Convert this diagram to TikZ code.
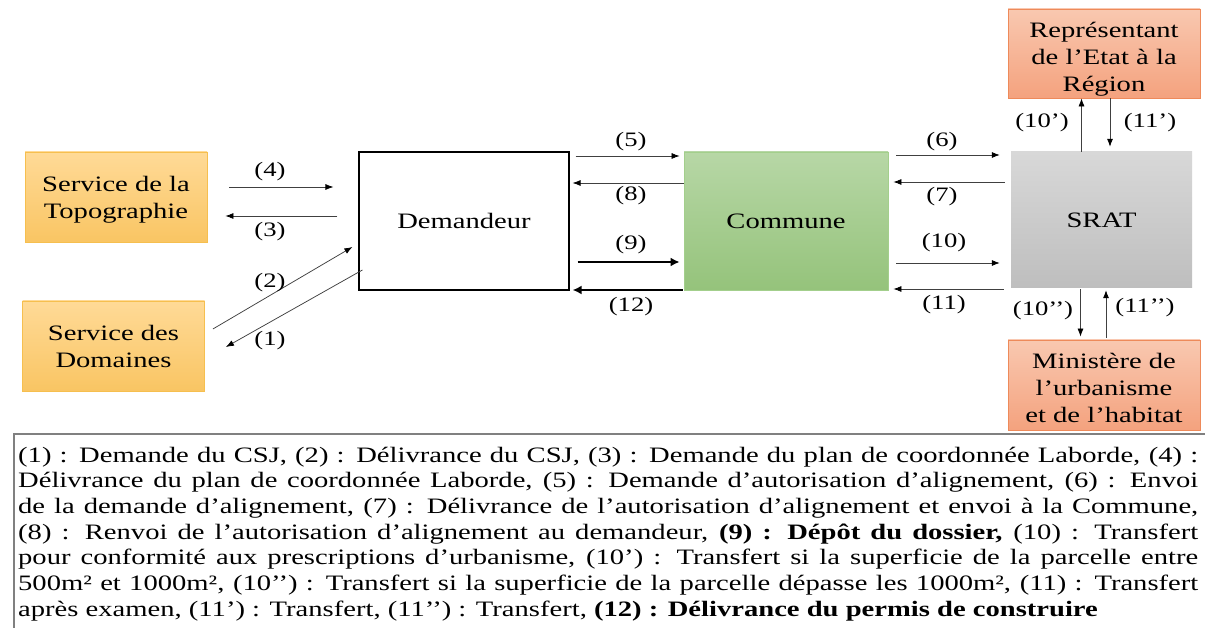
\documentclass[tikz,border=0pt]{standalone}
\usepackage{fontspec}
\setmainfont{Liberation Serif}[FakeStretch=1.3]
\usetikzlibrary{calc,arrows.meta}
\definecolor{orT}{HTML}{FFDA97}
\definecolor{orBot}{HTML}{F9C563}
\definecolor{orB}{HTML}{F6BF4F}
\definecolor{grT}{HTML}{B7D7A6}
\definecolor{grBot}{HTML}{95C37B}
\definecolor{grB}{HTML}{A3CF8C}
\definecolor{gyT}{HTML}{D8D8D8}
\definecolor{gyBot}{HTML}{BEBEBE}
\definecolor{saT}{HTML}{F9C8B0}
\definecolor{saBot}{HTML}{F4A27E}
\definecolor{saB}{HTML}{EE8A5A}
\definecolor{legB}{HTML}{808080}
\begin{document}
\begin{tikzpicture}[x=1pt,y=-1pt,
  basebox/.style={align=center, inner sep=0pt, font=\fontsize{22}{27}\selectfont},
  obox/.style={basebox, draw=orB, line width=0.8pt, top color=orT, bottom color=orBot, minimum width=182pt, minimum height=90pt},
  wbox/.style={basebox, draw=black, line width=1.2pt, fill=white, minimum width=210pt, minimum height=138pt},
  gbox/.style={basebox, draw=grB, line width=0.8pt, top color=grT, bottom color=grBot, minimum width=204pt, minimum height=138pt},
  ybox/.style={basebox, top color=gyT, bottom color=gyBot, minimum width=181pt, minimum height=136pt},
  sbox/.style={basebox, draw=saB, line width=0.8pt, top color=saT, bottom color=saBot, minimum width=192pt, minimum height=89pt},
  arr/.style={draw=black!75, line width=0.75pt, -{Latex[length=8pt,width=6pt,color=black]}},
  tarr/.style={draw=black, line width=2.6pt, -{Latex[length=9pt,width=9pt]}},
  lbl/.style={inner sep=0pt, font=\fontsize{20.5}{24}\selectfont}
]
\useasboundingbox (0,0) rectangle (1205,628);
\fill[white] (0,0) rectangle (1205,628);

% boxes
\node[obox] (topo) at (116,197) {};
\node[basebox] (topotxt) at ($(topo.center)+(0,3)$) {Service de la\\Topographie};
\node[obox] (dom) at (113.5,346) {Service des\\Domaines};
\node[wbox] (dem) at (464,221) {Demandeur};
\node[gbox] (com) at (786,221) {Commune};
\node[ybox] (srat) at (1101.5,220) {SRAT};
\node[sbox] (rep) at (1104,53.5) {};
\node[basebox] (reptxt) at ($(rep.center)+(0,5.5)$) {Représentant\\de l’Etat à la\\Région};
\node[sbox, minimum height=90pt] (min) at (1104,385) {};
\node[basebox] (mintxt) at ($(min.center)+(0,3)$) {Ministère de\\l’urbanisme\\et de l’habitat};

% arrows left
\draw[arr] ($(topo.east)+(22,-10)$) -- ($(dem.west)+(-25,-34)$);
\draw[arr] ($(dem.west)+(-21,-5)$) -- ($(topo.east)+(18,19)$);
\draw[arr] ($(dom.east)+(8,-17)$) -- ($(dem.west)+(-6,26)$);
\draw[arr] ($(dem.west)+(4,49)$) -- ($(dom.east)+(21,1)$);
% arrows middle
\draw[arr] ($(dem.east)+(6,-65)$) -- ($(com.west)+(-4,-65)$);
\draw[arr] ($(com.west)+(0,-38)$) -- ($(dem.east)+(3,-38)$);
\draw[tarr] ($(dem.east)+(8,41)$) -- ($(com.west)+(-4,41)$);
\draw[tarr] ($(com.west)+(-1,69)$) -- ($(dem.east)+(3,69)$);
% arrows right
\draw[arr] ($(com.east)+(8,-66)$) -- ($(srat.west)+(-11,-65)$);
\draw[arr] ($(srat.west)+(-6,-38)$) -- ($(com.east)+(5,-39)$);
\draw[arr] ($(com.east)+(8,42)$) -- ($(srat.west)+(-11,43)$);
\draw[arr] ($(srat.west)+(-7,69)$) -- ($(com.east)+(5,68)$);
% vertical arrows
\draw[arr] ($(srat.north)+(-20,0)$) -- ($(rep.south)+(-22.5,0)$);
\draw[arr] ($(rep.south)+(6,0)$) -- ($(srat.north)+(8.5,-5)$);
\draw[arr] ($(srat.south)+(-21,1)$) -- ($(min.north)+(-23.5,-3)$);
\draw[arr] ($(min.north)+(2,-2)$) -- ($(srat.south)+(4.5,2)$);

% labels
\node[lbl] (l4) at (270,172) {(4)};
\node[lbl] (l3) at (270,232) {(3)};
\node[lbl] (l2) at (270,283) {(2)};
\node[lbl] (l1) at (270,341) {(1)};
\node[lbl] (l5) at (631,142) {(5)};
\node[lbl] (l8) at (631,196) {(8)};
\node[lbl] (l9) at (631,245) {(9)};
\node[lbl] (l12) at (631,307) {(12)};
\node[lbl] (l6) at (942,142) {(6)};
\node[lbl] (l7) at (942,197) {(7)};
\node[lbl] (l10) at (944,243) {(10)};
\node[lbl] (l11) at (944,305) {(11)};
\node[lbl] (l10a) at (1042,123) {(10’)};
\node[lbl] (l11a) at (1150,123) {(11’)};
\node[lbl] (l10b) at (1043,311) {(10’’)};
\node[lbl] (l11b) at (1145,308) {(11’’)};

% legend frame
\draw[legB, line width=1.5pt] (1205,434) -- (14,434) -- (14,628);
\node[anchor=base west, text width=1180pt, align=justify, inner sep=0pt,
      font=\fontsize{22}{25.7}\selectfont] (leg) at (18,462)
{\hyphenpenalty=10000\relax
(1) : Demande du CSJ, (2) : Délivrance du CSJ, (3) : Demande du plan de coordonnée Laborde, (4) :\linebreak
Délivrance du plan de coordonnée Laborde, (5) : Demande d’autorisation d’alignement, (6) : Envoi\linebreak
de la demande d’alignement, (7) : Délivrance de l’autorisation d’alignement et envoi à la Commune,\linebreak
(8) : Renvoi de l’autorisation d’alignement au demandeur, \textbf{(9) : Dépôt du dossier,} (10) : Transfert\linebreak
pour conformité aux prescriptions d’urbanisme, (10’) : Transfert si la superficie de la parcelle entre\linebreak
500m² et 1000m², (10’’) : Transfert si la superficie de la parcelle dépasse les 1000m², (11) : Transfert\linebreak
après examen, (11’) : Transfert, (11’’) : Transfert, \textbf{(12) : Délivrance du permis de construire}};
\end{tikzpicture}
\end{document}
